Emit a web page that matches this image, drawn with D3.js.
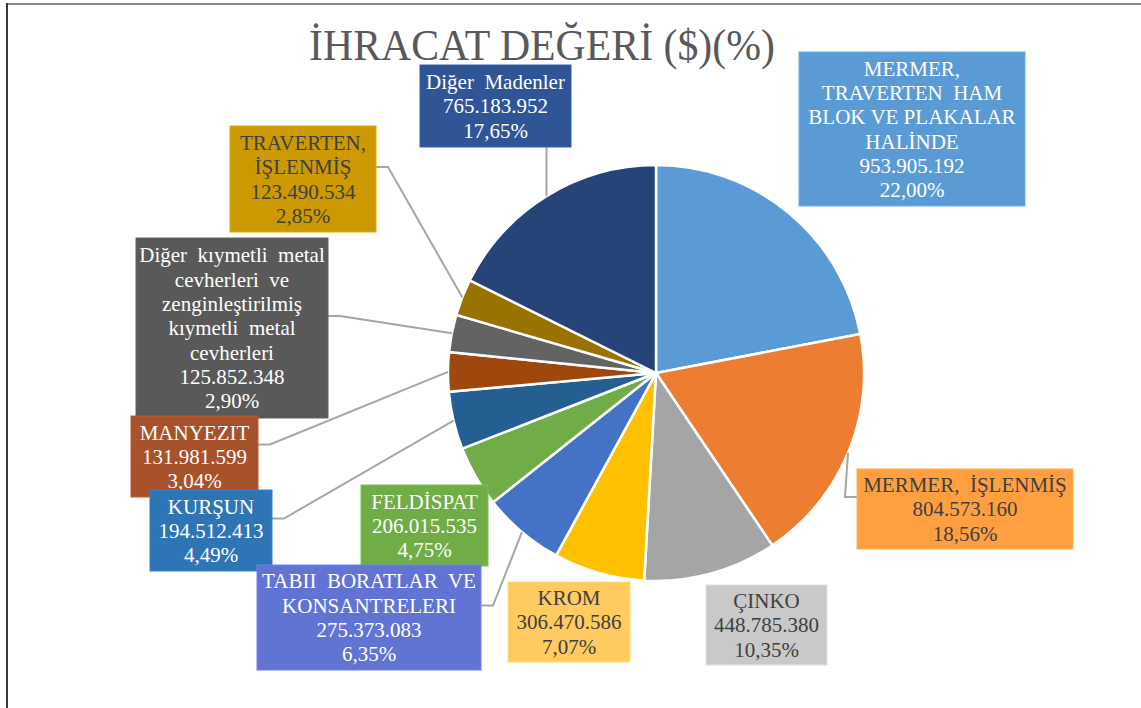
<!DOCTYPE html>
<html>
<head>
<meta charset="utf-8">
<script src="https://cdn.jsdelivr.net/npm/d3@7"></script>
<style>
  html, body { margin: 0; padding: 0; background: #fff; }
  text { font-family: "Liberation Serif", "Times New Roman", serif; white-space: pre; }
</style>
</head>
<body>
<div id="chart"></div>
<script>
// categories (line breaks as shown in the label boxes)
const categories = [
  'MERMER,\nTRAVERTEN  HAM\nBLOK VE PLAKALAR\nHALİNDE',
  'MERMER,  İŞLENMİŞ',
  'ÇINKO',
  'KROM',
  'TABII  BORATLAR  VE\nKONSANTRELERI',
  'FELDİSPAT',
  'KURŞUN',
  'MANYEZIT',
  'Diğer  kıymetli  metal\ncevherleri  ve\nzenginleştirilmiş\nkıymetli  metal\ncevherleri',
  'TRAVERTEN,\nİŞLENMİŞ',
  'Diğer  Madenler'
];
const values = [953905192, 804573160, 448785380, 306470586, 275373083, 206015535,
  194512413, 131981599, 125852348, 123490534, 765183952];
const sliceColors = ['#5B9BD5', '#ED7D31', '#A5A5A5', '#FFC000', '#4472C4', '#70AD47',
  '#255E91', '#9E480E', '#636363', '#997300', '#264478'];
const boxColors = ['#5B9BD5', '#FF9F40', '#C9C9C9', '#FFCA5F', '#6174D4', '#70AD47',
  '#2E75B6', '#A8522B', '#595959', '#CC9900', '#2F5597'];
const darkText = [false, true, true, true, false, false, false, false, false, true, false];

// label box placement: [x, y, w, h, leader side]
const boxLayout = [
  [799, 52, 226, 154, null],
  [857, 469, 216, 80, 'right'],
  [706, 585, 121, 80, null],
  [508, 582, 122, 80, null],
  [257, 565, 224, 105, 'left'],
  [361, 485, 127, 81, null],
  [150, 490, 122, 81, 'left'],
  [131, 416, 127, 81, 'left'],
  [136, 238, 192, 180, 'left'],
  [230, 126, 146, 106, 'left'],
  [420, 65, 151, 82, 'top']
];

const width = 1141, height = 708;
const cx = 656, cy = 373, radius = 208;

const svg = d3.select('#chart').append('svg')
    .attr('width', width)
    .attr('height', height);

// frame
svg.append('line')
    .attr('x1', 7).attr('x2', width).attr('y1', 4).attr('y2', 4)
    .attr('stroke', '#8a8a8a').attr('stroke-width', 2);
svg.append('line')
    .attr('x1', 7).attr('x2', 7).attr('y1', 3).attr('y2', height)
    .attr('stroke', '#3a3a3a').attr('stroke-width', 2);

// title (slightly condensed like the original)
svg.append('text')
    .text('İHRACAT DEĞERİ ($)(%)')
    .attr('transform', 'translate(542,60) scale(0.95,1)')
    .attr('text-anchor', 'middle')
    .style('font-size', '44px')
    .style('fill', '#595959');

const total = d3.sum(values);
const tr = d3.formatLocale({ decimal: ',', thousands: '.', grouping: [3], currency: ['', ''] });
const fmtVal = tr.format(',d');
const fmtPct = tr.format('.2%');

const pie = d3.pie().sort(null).value(d => d.value);
const data = categories.map((c, i) => ({ name: c, value: values[i], i: i }));
const arcs = pie(data);

const arc = d3.arc().innerRadius(0).outerRadius(radius);
const edgeArc = d3.arc().innerRadius(radius).outerRadius(radius);

const g = svg.append('g').attr('transform', `translate(${cx},${cy})`);

g.selectAll('path')
    .data(arcs)
    .enter()
    .append('path')
    .attr('d', arc)
    .attr('fill', d => sliceColors[d.data.i])
    .attr('stroke', '#fff')
    .attr('stroke-width', 2.5);

// leader lines
const leaders = svg.append('g');
arcs.forEach(d => {
  const [bx, by, bw, bh, side] = boxLayout[d.data.i];
  if (!side) return;
  const p = edgeArc.centroid(d);
  const px = p[0] + cx, py = p[1] + cy;
  let pts;
  const ly = by + bh / 2 - 12;
  if (side === 'left') pts = [[px, py], [bx + bw + 12, ly], [bx + bw, ly]];
  else if (side === 'right') pts = [[px, py], [bx - 12, ly], [bx, ly]];
  else pts = [[px, py], [px, by + bh]];
  leaders.append('path')
      .attr('d', d3.line()(pts))
      .attr('fill', 'none')
      .attr('stroke', '#A6A6A6')
      .attr('stroke-width', 2);
});

// label boxes (drawn last-first so KURŞUN sits over MANYEZIT)
const lineH = 24.3;
const labels = svg.append('g');
arcs.slice().reverse().forEach(d => {
  const i = d.data.i;
  const [bx, by, bw, bh] = boxLayout[i];
  const lines = d.data.name.split('\n')
      .concat([fmtVal(d.data.value), fmtPct(d.data.value / total)]);
  const lg = labels.append('g');
  lg.append('rect')
      .attr('x', bx).attr('y', by).attr('width', bw).attr('height', bh)
      .attr('fill', boxColors[i])
      .attr('stroke', d3.color(boxColors[i]).brighter(0.3))
      .attr('stroke-width', 1);
  const top = by + (bh - lines.length * lineH) / 2;
  lines.forEach((t, k) => {
    lg.append('text')
        .text(t)
        .attr('x', bx + bw / 2)
        .attr('y', top + lineH * (k + 0.5))
        .attr('dy', '0.35em')
        .attr('text-anchor', 'middle')
        .style('font-size', '21px')
        .style('fill', darkText[i] ? '#404040' : '#fff');
  });
});
</script>
</body>
</html>
